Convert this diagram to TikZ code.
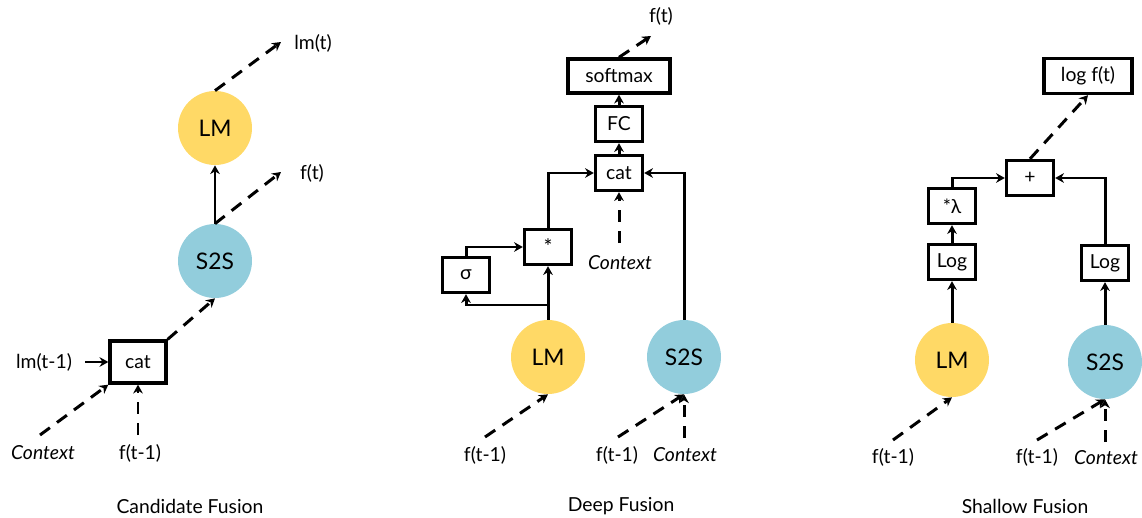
\documentclass[tikz,border=0pt]{standalone}
\usepackage{fontspec}
\setmainfont{Lato}
\usetikzlibrary{arrows.meta}
\definecolor{lmyellow}{RGB}{255,217,102}
\definecolor{sblue}{RGB}{146,205,220}
\begin{document}
\begin{tikzpicture}[x=0.02cm, y=-0.02cm,
    font=\fontsize{11}{13}\selectfont,
    blk/.style={draw, line width=1.9pt, minimum width=0.94cm, minimum height=0.7cm, inner sep=0pt},
    lm/.style={circle, fill=lmyellow, minimum size=1.48cm, inner sep=0pt, font=\fontsize{13}{15}\selectfont},
    sts/.style={circle, fill=sblue, minimum size=1.48cm, inner sep=0pt, font=\fontsize{13}{15}\selectfont},
    ar/.style={line width=1.7pt, -{Stealth[length=5pt, width=5.5pt]}},
    dsh/.style={ar, dash pattern=on 7pt off 5pt},
    lbl/.style={inner sep=0pt}]
  \useasboundingbox (0,0) rectangle (1142,517);

  % candidate fusion
  \node [lm] (lmA) at (215,128) {LM};
  \node [sts] (s2sA) at (215,261) {S2S};
  \node [blk, minimum width=1.12cm, minimum height=0.84cm] (catA) at (138,362) {cat};
  \node [lbl] (lmtA) at (313,43) {lm(t)};
  \node [lbl] (ftA) at (312,173) {f(t)};
  \node [lbl] (lmprevA) at (44,362) {lm(t-1)};
  \node [lbl] (ctxA) at (43,453) {\itshape Context};
  \node [lbl] (fprevA) at (140,453) {f(t-1)};
  \node [lbl] (titleA) at (190,506) {Candidate Fusion};
  \coordinate (lmoutA) at (281,42);
  \coordinate (foutA) at (281,172);
  \coordinate (lminA) at (85,362);
  \coordinate (ctxinA) at (40,435);
  \coordinate (finA) at (138,435);

  \draw [ar] (s2sA) -- (lmA);
  \draw [dsh] (lmA.north) -- (lmoutA);
  \draw [dsh] (s2sA.north) -- (foutA);
  \draw [ar] (lminA) -- (catA.west);
  \draw [dsh] (ctxinA) -- (catA.south west);
  \draw [dsh] (finA) -- (catA.south);
  \draw [dsh] (catA.north east) -- (s2sA.south);

  % deep fusion
  \node [blk, minimum width=2.04cm, minimum height=0.68cm] (smB) at (619,76) {softmax};
  \node [blk] (fcB) at (619,124) {FC};
  \node [blk] (catB) at (619,173) {cat};
  \node [blk] (mulB) at (548,247) {\large *};
  \node [blk] (sigB) at (466,275) {σ};
  \node [lm] (lmB) at (548,357) {LM};
  \node [sts] (s2sB) at (684,357) {S2S};
  \node [lbl] (ftB) at (661,16) {f(t)};
  \node [lbl] (ctxB) at (620,263) {\itshape Context};
  \node [lbl] (fprevB) at (485,455) {f(t-1)};
  \node [lbl] (fprevBB) at (617,455) {f(t-1)};
  \node [lbl] (ctxBB) at (685,455) {\itshape Context};
  \node [lbl] (titleB) at (621,506) {Deep Fusion};
  \coordinate (foutB) at (651,36);
  \coordinate (brB) at (548,305);
  \coordinate (ctxinB) at (619,243);
  \coordinate (finB) at (485,437);
  \coordinate (finBB) at (618,437);
  \coordinate (ctxinBB) at (684,438);

  \draw [ar] (lmB) -- (mulB);
  \draw [ar] (brB) -| (sigB.south);
  \draw [ar] (sigB.north) |- (mulB.west);
  \draw [ar] (mulB.north) |- (catB.west);
  \draw [ar] (s2sB.north) |- (catB.east);
  \draw [dsh] (ctxinB) -- (catB.south);
  \draw [ar] (catB) -- (fcB);
  \draw [ar] (fcB) -- (smB);
  \draw [dsh] (smB.north) -- (foutB);
  \draw [dsh] (finB) -- (lmB.south);
  \draw [dsh] (finBB) -- (s2sB.south);
  \draw [dsh] (ctxinBB) -- (s2sB.south);

  % shallow fusion
  \node [blk, minimum width=1.76cm] (logfC) at (1088,76) {log f(t)};
  \node [blk] (addC) at (1030,178) {+};
  \node [blk] (lamC) at (952,206) {*λ};
  \node [blk] (loglC) at (952,262) {Log};
  \node [blk] (logrC) at (1105,263) {Log};
  \node [lm] (lmC) at (952,360) {LM};
  \node [sts] (s2sC) at (1105,362) {S2S};
  \node [lbl] (fprevC) at (893,457) {f(t-1)};
  \node [lbl] (fprevCC) at (1037,457) {f(t-1)};
  \node [lbl] (ctxCC) at (1106,458) {\itshape Context};
  \node [lbl] (titleC) at (1025,506) {Shallow Fusion};
  \coordinate (finC) at (893,440);
  \coordinate (finCC) at (1037,440);
  \coordinate (ctxinCC) at (1105,442);

  \draw [ar] (lmC) -- (loglC);
  \draw [ar] (loglC) -- (lamC);
  \draw [ar] (lamC.north) |- (addC.west);
  \draw [ar] (s2sC) -- (logrC);
  \draw [ar] (logrC.north) |- (addC.east);
  \draw [dsh] (addC.north) -- (logfC.south);
  \draw [dsh] (finC) -- (lmC.south);
  \draw [dsh] (finCC) -- (s2sC.south);
  \draw [dsh] (ctxinCC) -- (s2sC.south);
\end{tikzpicture}
\end{document}
